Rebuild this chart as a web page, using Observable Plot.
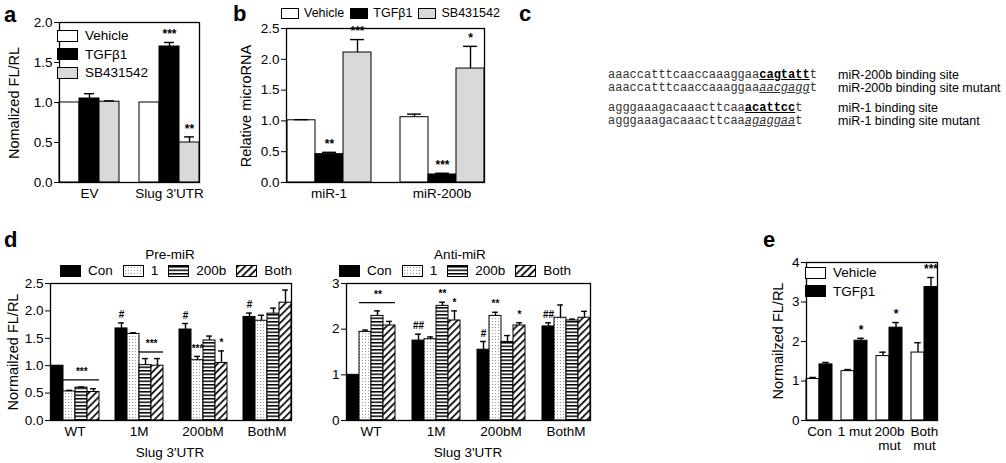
<!DOCTYPE html>
<html><head><meta charset="utf-8">
<script src="https://cdn.jsdelivr.net/npm/d3@7"></script>
<script src="https://cdn.jsdelivr.net/npm/@observablehq/plot@0.6"></script>
<style>
body{margin:0;background:#fff;font-family:"Liberation Sans",Arial,sans-serif;color:#000}
#wrap{position:relative;width:1006px;height:463px;overflow:hidden;background:#fff}
.panel{position:absolute}
.plab{position:absolute;font-weight:bold;font-size:22px;line-height:1}
.leg{position:absolute;font-size:13.5px;white-space:nowrap;line-height:1}
.leg .it{display:inline-flex;align-items:center;margin-right:10px}
.leg .sw{display:inline-block;width:19px;height:10px;border:1px solid #000;margin-right:7px}
.legv .it{display:flex;margin-bottom:5px}
.legb{font-size:12.5px}
.legb .it{margin-right:6px}
.legb .sw{width:16px;height:9px;margin-right:5px}
.ttl{position:absolute;font-size:13.5px;white-space:nowrap;transform:translateX(-50%);line-height:1}
.seq{position:absolute;font-family:"Liberation Mono","Courier New",monospace;font-size:12px;color:#333;white-space:nowrap;line-height:1}
.seq b{color:#000;text-decoration:underline}
.seq i{text-decoration:underline}
.slab{position:absolute;font-size:12.5px;white-space:nowrap;line-height:1}
.ytitle{position:absolute;font-size:14.5px;white-space:nowrap;line-height:1;transform:translate(-50%,-50%) rotate(-90deg)}
</style></head>
<body>
<svg width="0" height="0" style="position:absolute">
<defs>
<pattern id="dots" patternUnits="userSpaceOnUse" width="3" height="3"><rect width="3" height="3" fill="#fff"/><rect x="1" y="1" width="1" height="1" fill="#999"/></pattern>
<pattern id="hlines" patternUnits="userSpaceOnUse" width="4" height="3.5"><rect width="4" height="3.5" fill="#fff"/><rect y="0" width="4" height="1.5" fill="#000"/></pattern>
<pattern id="diag" patternUnits="userSpaceOnUse" width="5" height="5" patternTransform="rotate(45)"><rect width="5" height="5" fill="#fff"/><rect x="0" width="1.7" height="5" fill="#000"/></pattern>
</defs>
</svg>
<div id="wrap"></div>
<script>
// ---------- data ----------
const aGroups = ["EV", "Slug 3'UTR"];
const aSeries = ["Vehicle", "TGFβ1", "SB431542"];
const aValues = [[1.00, 1.05, 1.01], [1.00, 1.70, 0.50]];
const aErrors = [[0, 0.06, 0.01], [0, 0.05, 0.07]];
const aMarks = [["", "", ""], ["", "***", "**"]];
const aTicks = [0, 0.5, 1.0, 1.5, 2.0];

const bGroups = ["miR-1", "miR-200b"];
const bSeries = ["Vehicle", "TGFβ1", "SB431542"];
const bValues = [[1.01, 0.46, 2.11], [1.06, 0.13, 1.85]];
const bErrors = [[0.01, 0.03, 0.21], [0.05, 0.02, 0.36]];
const bMarks = [["", "**", "***"], ["", "***", "*"]];
const bTicks = [0, 0.5, 1.0, 1.5, 2.0, 2.5];

const cRows = [
  {pre: "aaaccatttcaaccaaaggaa", site: "cagtatt", post: "t", mutant: false, label: "miR-200b binding site"},
  {pre: "aaaccatttcaaccaaaggaa", site: "aacgagg", post: "t", mutant: true, label: "miR-200b binding site mutant"},
  {pre: "agggaaagacaaacttcaa", site: "acattcc", post: "t", mutant: false, label: "miR-1 binding site"},
  {pre: "agggaaagacaaacttcaa", site: "agaggaa", post: "t", mutant: true, label: "miR-1 binding site mutant"}
];

const dGroups = ["WT", "1M", "200bM", "BothM"];
const dSeries = ["Con", "1", "200b", "Both"];
const dPreValues = [[1.00, 0.53, 0.60, 0.52], [1.68, 1.58, 1.01, 1.00], [1.66, 1.10, 1.46, 1.05], [1.89, 1.82, 1.95, 2.15]];
const dPreErrors = [[0, 0.02, 0.01, 0.06], [0.10, 0.02, 0.12, 0.13], [0.11, 0.07, 0.08, 0.22], [0.07, 0.10, 0.10, 0.23]];
const dPreMarks = [["", "", "", ""], ["#", "", "", ""], ["#", "***", "", "*"], ["#", "", "", ""]];
const dPreBrackets = [{group: "WT", from: "1", to: "Both", y: 0.74, text: "***"}, {group: "1M", from: "200b", to: "Both", y: 1.25, text: "***"}];
const dPreTicks = [0, 0.5, 1.0, 1.5, 2.0, 2.5];

const dAntiValues = [[1.00, 1.94, 2.29, 2.08], [1.75, 1.78, 2.51, 2.19], [1.55, 2.29, 1.72, 2.08], [2.06, 2.25, 2.19, 2.25]];
const dAntiErrors = [[0, 0.04, 0.11, 0.09], [0.14, 0.05, 0.08, 0.21], [0.18, 0.08, 0.14, 0.06], [0.08, 0.28, 0.03, 0.14]];
const dAntiMarks = [["", "", "", ""], ["##", "", "**", "*"], ["#", "**", "", "*"], ["##", "", "", ""]];
const dAntiBrackets = [{group: "WT", from: "1", to: "Both", y: 2.58, text: "**"}];
const dAntiTicks = [0, 1, 2, 3];
const dXTitle = "Slug 3'UTR";

const eGroups = ["Con", "1 mut", "200b\nmut", "Both\nmut"];
const eSeries = ["Vehicle", "TGFβ1"];
const eValues = [[1.05, 1.42], [1.25, 2.02], [1.63, 2.35], [1.72, 3.38]];
const eErrors = [[0.04, 0.05], [0.04, 0.06], [0.10, 0.13], [0.25, 0.24]];
const eMarks = [["", ""], ["", "*"], ["", "*"], ["", "***"]];
const eTicks = [0, 1, 2, 3, 4];

const fillsABC = ["#fff", "#000", "#d9d9d9"];
const fillsD = ["#000", "url(#dots)", "url(#hlines)", "url(#diag)"];
const fillsE = ["#fff", "#000"];

// ---------- helpers ----------
const wrap = document.getElementById("wrap");
function place(el, left, top) { el.style.left = left + "px"; el.style.top = top + "px"; wrap.appendChild(el); return el; }
function html(cls, content) { const d = document.createElement("div"); d.className = cls; d.innerHTML = content; return d; }

function barPanel(o) {
  const rows = o.groups.flatMap((g, i) => o.series.map((s, j) => ({group: g, series: s, value: o.values[i][j], err: o.errors[i][j], mark: o.marks[i][j]})));
  const withErr = rows.filter(d => d.err > 0);
  const withMark = rows.filter(d => d.mark);
  const top = d => d.value + d.err;
  const W = o.width - o.ml - o.mr;
  const n = o.groups.length, m = o.series.length;
  const fxStep = W / (n - o.pi + 2 * o.po);
  const xStep = fxStep * (1 - o.pi) / m;
  const brackets = o.brackets || [];
  const ms = o.markSize || 11;
  const marks = [
    Plot.barY(rows, {fx: "group", x: "series", y: "value", fill: "series", stroke: "#000", strokeWidth: 1}),
    Plot.ruleX(withErr, {fx: "group", x: "series", y1: "value", y2: top, stroke: "#000", strokeWidth: 1.4}),
    Plot.tickY(withErr, {fx: "group", x: "series", y: top, stroke: "#000", strokeWidth: 1.4, insetLeft: xStep * 0.25, insetRight: xStep * 0.25}),
    Plot.text(withMark, {fx: "group", x: "series", y: top, text: "mark", dy: -8, fontSize: ms, fontWeight: "bold"}),
    Plot.ruleY(brackets, {fx: "group", x1: "from", x2: "to", y: "y", stroke: "#000", strokeWidth: 1.3}),
    ...brackets.map(b => Plot.text([b], {fx: "group", x: "from", y: "y", text: "text", dy: -8, fontSize: ms, fontWeight: "bold",
      dx: xStep * (o.series.indexOf(b.to) - o.series.indexOf(b.from)) / 2})),
    Plot.frame({facet: "super", stroke: "#000", strokeWidth: 1.3})
  ];
  return Plot.plot({
    width: o.width, height: o.height,
    marginLeft: o.ml, marginRight: o.mr, marginTop: o.mt, marginBottom: o.mb,
    style: {fontFamily: "'Liberation Sans', Arial, sans-serif", fontSize: "13.5px", background: "transparent", overflow: "visible", color: "#000"},
    fx: {domain: o.groups, paddingInner: o.pi, paddingOuter: o.po, tickSize: 0, tickPadding: 6, label: null},
    x: {domain: o.series, axis: null, padding: 0},
    y: {domain: o.yDomain, ticks: o.yTicks, tickFormat: o.tickFormat, tickSize: 5, tickPadding: 2, label: null},
    color: {domain: o.series, range: o.fills},
    marks
  });
}

function legend(series, fills) {
  return series.map((s, i) => `<span class="it"><span class="sw" style="background:${fills[i].startsWith("url") ? "none" : fills[i]}">${fills[i].startsWith("url") ? `<svg width="19" height="10" style="display:block"><rect width="19" height="10" fill="${fills[i]}"/></svg>` : ""}</span>${s}</span>`).join("");
}

// ---------- panel a ----------
place(html("plab", "a"), 4, 4);
const pa = place(html("panel", ""), 0, 0);
pa.appendChild(barPanel({groups: aGroups, series: aSeries, values: aValues, errors: aErrors, marks: aMarks,
  fills: fillsABC, yDomain: [0, 2], yTicks: aTicks, tickFormat: d3.format(".1f"),
  width: 218, height: 212, ml: 48, mr: 8, mt: 22, mb: 30, pi: 0.25, po: 0.13, markSize: 12}));
place(html("ytitle", "Nomalized FL/RL"), 14, 103);
place(html("leg legv", legend(aSeries, fillsABC)), 57, 29);

// ---------- panel b ----------
place(html("plab", "b"), 233, 3);
const pb = place(html("panel", ""), 225, 0);
pb.appendChild(barPanel({groups: bGroups, series: bSeries, values: bValues, errors: bErrors, marks: bMarks,
  fills: fillsABC, yDomain: [0, 2.5], yTicks: bTicks, tickFormat: d3.format(".1f"),
  width: 280, height: 212, ml: 47, mr: 8, mt: 28, mb: 30, pi: 0.25, po: 0.12, markSize: 12}));
place(html("ytitle", "Relative microRNA"), 246, 106);
place(html("leg legb", legend(bSeries, fillsABC)), 281, 7);

// ---------- panel c ----------
place(html("plab", "c"), 519, 3);
const cY = [69, 82, 102, 115];
cRows.forEach((r, i) => {
  const site = r.mutant ? `<i>${r.site}</i>` : `<b>${r.site}</b>`;
  place(html("seq", `${r.pre}${site}${r.post}`), 608, cY[i]);
  place(html("slab", r.label), 838, cY[i]);
});

// ---------- panel d ----------
place(html("plab", "d"), 4, 229);
const pd1 = place(html("panel", ""), 0, 230);
pd1.appendChild(barPanel({groups: dGroups, series: dSeries, values: dPreValues, errors: dPreErrors, marks: dPreMarks, brackets: dPreBrackets,
  fills: fillsD, yDomain: [0, 2.5], yTicks: dPreTicks, tickFormat: d3.format(".1f"),
  width: 310, height: 233, ml: 40, mr: 10, mt: 53, mb: 43, pi: 0.24, po: 0.13, markSize: 10}));
place(html("ytitle", "Normailzed FL/RL"), 13, 352);
place(html("ttl", "Pre-miR"), 170, 248);
place(html("leg", legend(dSeries, fillsD)), 60, 264);
place(html("ttl", dXTitle), 170, 446);

const pd2 = place(html("panel", ""), 310, 230);
pd2.appendChild(barPanel({groups: dGroups, series: dSeries, values: dAntiValues, errors: dAntiErrors, marks: dAntiMarks, brackets: dAntiBrackets,
  fills: fillsD, yDomain: [0, 3], yTicks: dAntiTicks, tickFormat: d3.format("d"),
  width: 300, height: 233, ml: 27, mr: 10, mt: 53, mb: 43, pi: 0.24, po: 0.13, markSize: 10}));
place(html("ttl", "Anti-miR"), 460, 248);
place(html("leg", legend(dSeries, fillsD)), 339, 264);
place(html("ttl", dXTitle), 468, 446);

// ---------- panel e ----------
place(html("plab", "e"), 763, 229);
const pe = place(html("panel", ""), 760, 230);
pe.appendChild(barPanel({groups: eGroups, series: eSeries, values: eValues, errors: eErrors, marks: eMarks,
  fills: fillsE, yDomain: [0, 4], yTicks: eTicks, tickFormat: d3.format("d"),
  width: 190, height: 233, ml: 40, mr: 8, mt: 32, mb: 43, pi: 0.27, po: 0.13, markSize: 12}));
place(html("ytitle", "Normailzed FL/RL"), 778, 341);
place(html("leg legv", legend(eSeries, fillsE)), 805, 266);
</script>
</body></html>
